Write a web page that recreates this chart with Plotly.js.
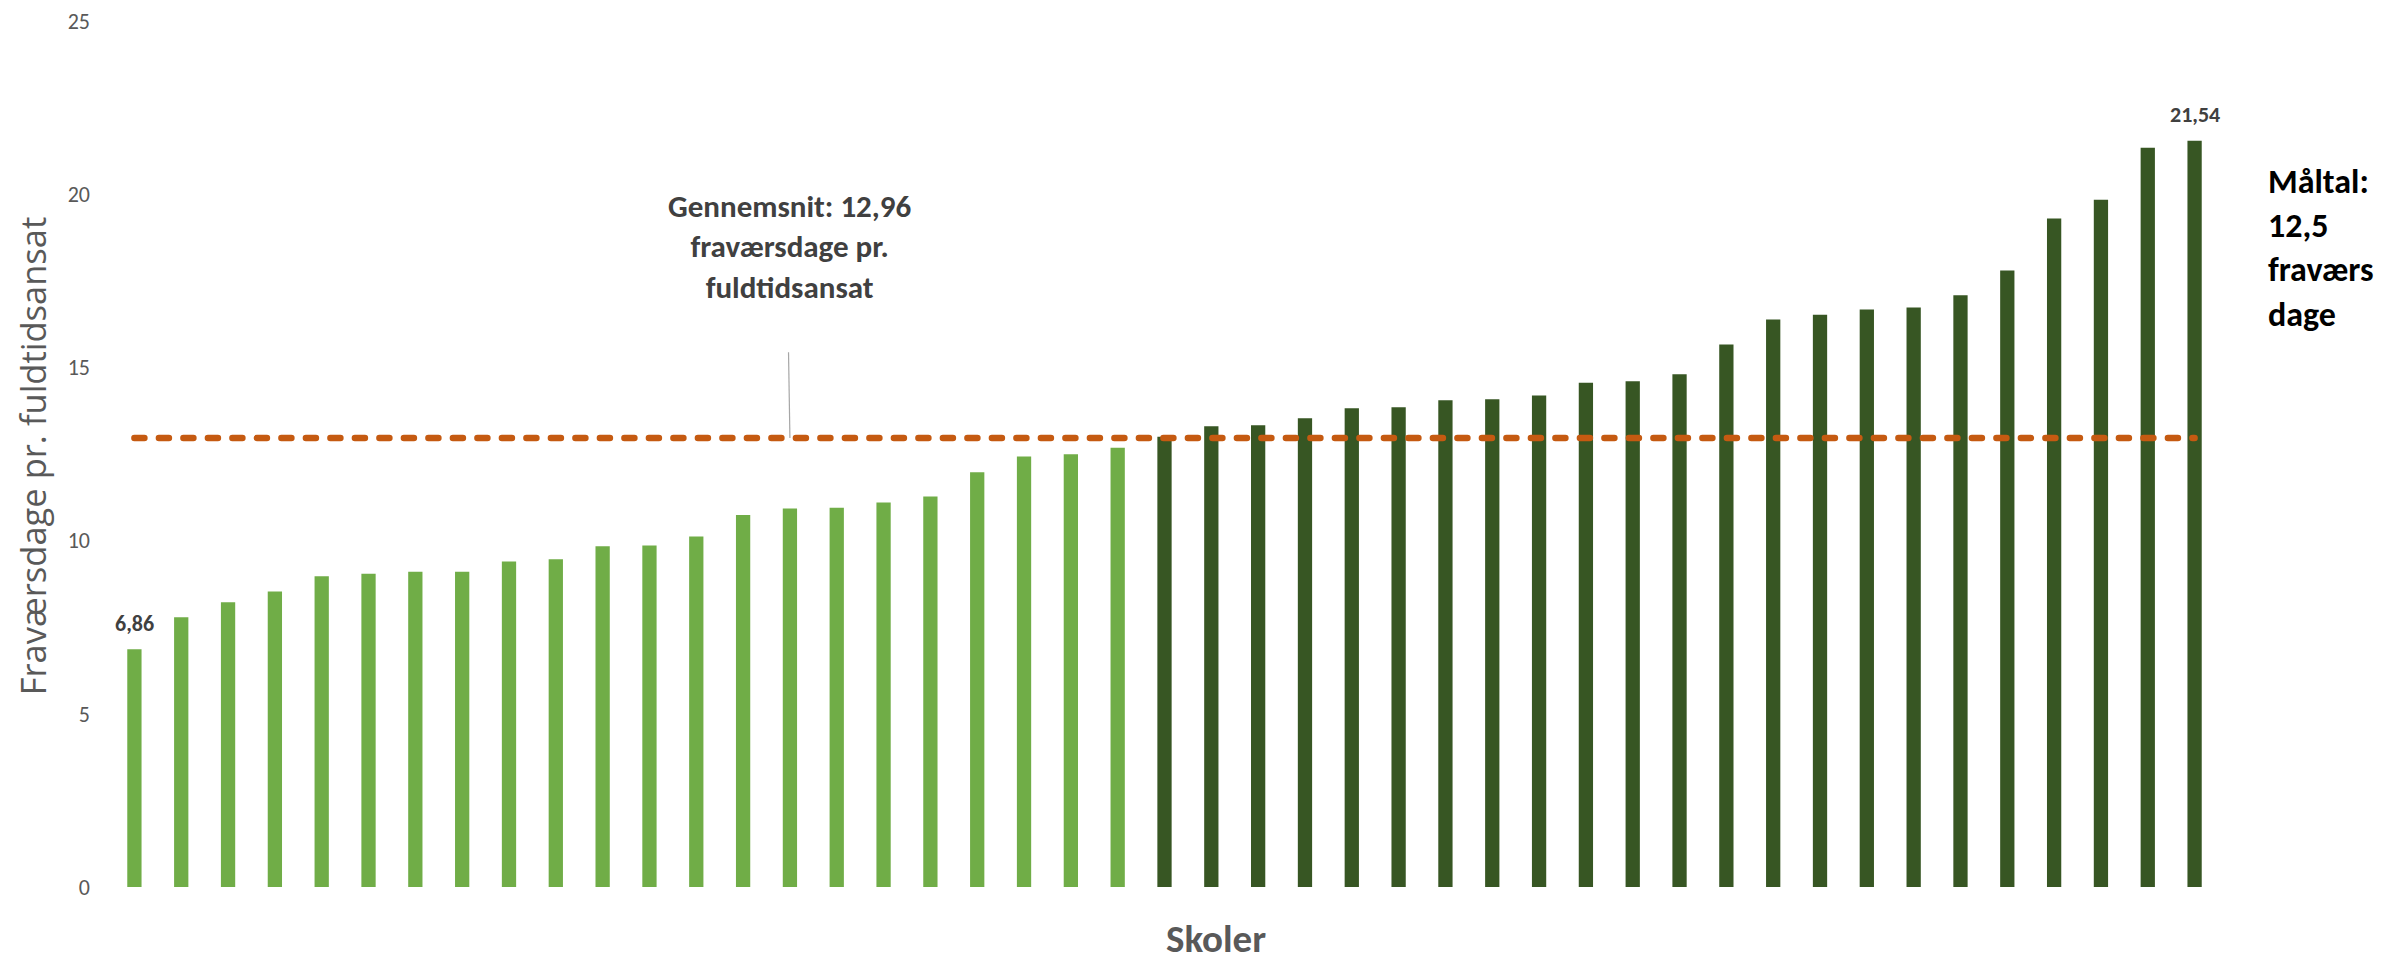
<!DOCTYPE html>
<html>
<head>
<meta charset="utf-8">
<script src="https://cdn.plot.ly/plotly-3.0.1.min.js"></script>
<style>
  html, body { margin: 0; padding: 0; background: #ffffff; }
  #chart { width: 2386px; height: 963px; }
</style>
</head>
<body>
<div id="chart"></div>
<script>
// ---- Data ----
const lowSchools = ["Skole 1","Skole 2","Skole 3","Skole 4","Skole 5","Skole 6","Skole 7","Skole 8","Skole 9","Skole 10","Skole 11","Skole 12","Skole 13","Skole 14","Skole 15","Skole 16","Skole 17","Skole 18","Skole 19","Skole 20","Skole 21","Skole 22"];
const lowValues  = [6.86, 7.79, 8.22, 8.53, 8.97, 9.04, 9.10, 9.10, 9.40, 9.46, 9.84, 9.86, 10.12, 10.74, 10.93, 10.95, 11.10, 11.27, 11.97, 12.43, 12.49, 12.68];
const highSchools = ["Skole 23","Skole 24","Skole 25","Skole 26","Skole 27","Skole 28","Skole 29","Skole 30","Skole 31","Skole 32","Skole 33","Skole 34","Skole 35","Skole 36","Skole 37","Skole 38","Skole 39","Skole 40","Skole 41","Skole 42","Skole 43","Skole 44","Skole 45"];
const highValues  = [13.00, 13.30, 13.33, 13.53, 13.82, 13.85, 14.05, 14.08, 14.19, 14.56, 14.60, 14.80, 15.66, 16.38, 16.52, 16.67, 16.73, 17.08, 17.80, 19.30, 19.84, 21.34, 21.54];
const averageValue = 12.96;
const yTicks = [0, 5, 10, 15, 20, 25];

const yTitle = "Fraværsdage pr. fuldtidsansat";
const xTitle = "Skoler";
const avgText = "Gennemsnit: 12,96<br>fraværsdage pr.<br>fuldtidsansat";
const targetText = "Måltal:<br>12,5<br>fraværs<br>dage";

const fmt = v => v.toFixed(2).replace(".", ",");

const LIGHT = "#70AD47", DARK = "#375623", ORANGE = "#C55A11";
const CAL = "Carlito, Calibri, 'Liberation Sans', Arial, sans-serif";

const firstCat = lowSchools[0];
const lastCat = highSchools[highSchools.length - 1];
const firstVal = lowValues[0];
const lastVal = highValues[highValues.length - 1];

const traces = [
  { type: "bar", x: lowSchools, y: lowValues, marker: { color: LIGHT }, hoverinfo: "skip", showlegend: false },
  { type: "bar", x: highSchools, y: highValues, marker: { color: DARK }, hoverinfo: "skip", showlegend: false },
  { type: "scatter", mode: "lines", x: [firstCat, lastCat], y: [averageValue, averageValue],
    line: { color: ORANGE, width: 6.5, dash: "10px,14.5px" }, hoverinfo: "skip", showlegend: false }
];

const layout = {
  width: 2386, height: 963,
  margin: { l: 111, r: 168, t: 21, b: 76, pad: 0 },
  paper_bgcolor: "#ffffff", plot_bgcolor: "#ffffff",
  barmode: "overlay", bargap: 0.695,
  showlegend: false,
  font: { family: CAL, color: "#595959" },
  xaxis: {
    type: "category", range: [-0.5, 44.5],
    showticklabels: false, showgrid: false, zeroline: false, showline: false, ticks: ""
  },
  yaxis: {
    range: [0, 25], tickvals: yTicks, ticktext: yTicks.map(String),
    showgrid: false, zeroline: false, showline: false, ticks: "",
    tickfont: { family: CAL, size: 22, color: "#595959" },
    ticklabelstandoff: 20
  },
  shapes: [
    { type: "line", xref: "x", yref: "y", x0: 13.97, x1: 14.0, y0: 15.44, y1: averageValue,
      line: { color: "#A6A6A6", width: 1.2 } }
  ],
  annotations: [
    { xref: "paper", yref: "paper", x: -0.0375, y: 0.4985, text: yTitle, textangle: -90,
      showarrow: false, xanchor: "center", yanchor: "middle",
      font: { family: "'Open Sans', 'Segoe UI', sans-serif", size: 34.5, color: "#595959" } },
    { xref: "paper", yref: "paper", x: 0.5245, y: -0.0875, text: "<b>" + xTitle + "</b>",
      showarrow: false, xanchor: "center", yanchor: "bottom", borderpad: 0,
      font: { family: CAL, size: 39, color: "#595959" } },
    { xref: "x", yref: "y", x: 14, y: 18.48, text: "<b>" + avgText + "</b>", align: "center",
      showarrow: false, xanchor: "center", yanchor: "middle",
      font: { family: CAL, size: 31, color: "#404040" } },
    { xref: "paper", yref: "paper", x: 1.0228, y: 0.738, text: "<b>" + targetText + "</b>", align: "left",
      showarrow: false, xanchor: "left", yanchor: "middle",
      font: { family: CAL, size: 34, color: "#000000" } },
    { xref: "x", yref: "y", x: firstCat, y: firstVal, text: "<b>" + fmt(firstVal) + "</b>",
      showarrow: false, xanchor: "center", yanchor: "bottom", yshift: 10,
      font: { family: CAL, size: 22, color: "#404040" } },
    { xref: "x", yref: "y", x: lastCat, y: lastVal, text: "<b>" + fmt(lastVal) + "</b>",
      showarrow: false, xanchor: "center", yanchor: "bottom", yshift: 11,
      font: { family: CAL, size: 22, color: "#404040" } }
  ]
};

Plotly.newPlot("chart", traces, layout, { staticPlot: true, displayModeBar: false }).then(gd => {
  gd.querySelectorAll(".scatterlayer .js-line").forEach(p => p.style.strokeLinecap = "round");
});
</script>
</body>
</html>
